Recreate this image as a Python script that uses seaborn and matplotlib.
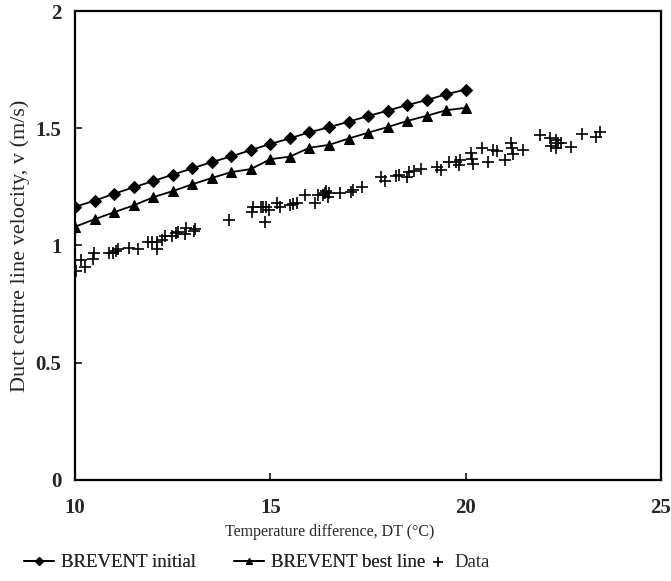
import numpy as np
import pandas as pd
import seaborn as sns
import matplotlib.pyplot as plt

# BREVENT predictions (DT step 0.5 from 10 to 20 degC)
dt_model = [10.0, 10.5, 11.0, 11.5, 12.0, 12.5, 13.0, 13.5, 14.0, 14.5, 15.0,
            15.5, 16.0, 16.5, 17.0, 17.5, 18.0, 18.5, 19.0, 19.5, 20.0]
v_initial = [1.165, 1.191, 1.221, 1.248, 1.275, 1.302, 1.329, 1.356, 1.380, 1.407, 1.433,
             1.457, 1.483, 1.504, 1.528, 1.552, 1.575, 1.599, 1.620, 1.645, 1.665]
v_best = [1.080, 1.112, 1.142, 1.171, 1.206, 1.232, 1.261, 1.288, 1.313, 1.326, 1.368,
          1.379, 1.417, 1.429, 1.456, 1.481, 1.505, 1.531, 1.553, 1.577, 1.587]

# measured data
dt_data = [10.03, 10.15, 10.25, 10.45, 10.47, 10.87, 10.96, 11.04, 11.10, 11.37, 11.61,
           11.87, 11.98, 12.10, 12.10, 12.23, 12.29, 12.49, 12.57, 12.63, 12.82, 12.85,
           13.04, 13.08, 13.94, 14.52, 14.56, 14.75, 14.82, 14.89, 14.86, 14.97, 15.16,
           15.24, 15.50, 15.58, 15.68, 15.88, 16.13, 16.22, 16.34, 16.39, 16.43, 16.47,
           16.51, 16.77, 17.07, 17.11, 17.35, 17.83, 17.94, 18.21, 18.30, 18.51, 18.55,
           18.68, 18.85, 19.27, 19.36, 19.57, 19.74, 19.82, 19.86, 20.14, 20.18, 20.16,
           20.41, 20.57, 20.71, 20.80, 21.01, 21.16, 21.18, 21.20, 21.48, 21.90, 22.15,
           22.18, 22.32, 22.37, 22.45, 22.32, 22.70, 22.98, 23.34, 23.43]
v_data = [0.891, 0.938, 0.907, 0.942, 0.969, 0.967, 0.969, 0.978, 0.986, 0.988, 0.984,
          1.016, 1.016, 1.016, 0.984, 1.023, 1.041, 1.041, 1.052, 1.056, 1.049, 1.073,
          1.063, 1.069, 1.109, 1.144, 1.166, 1.166, 1.166, 1.166, 1.099, 1.151, 1.180,
          1.166, 1.173, 1.177, 1.180, 1.215, 1.180, 1.215, 1.215, 1.225, 1.234, 1.208,
          1.223, 1.225, 1.229, 1.237, 1.248, 1.291, 1.276, 1.296, 1.301, 1.293, 1.315,
          1.318, 1.325, 1.336, 1.322, 1.357, 1.357, 1.343, 1.365, 1.393, 1.348, 1.368,
          1.414, 1.357, 1.407, 1.403, 1.365, 1.436, 1.414, 1.389, 1.407, 1.471, 1.457,
          1.424, 1.450, 1.436, 1.436, 1.414, 1.421, 1.475, 1.461, 1.485]


def main():
    sns.set_style("ticks")
    plt.rcParams["font.family"] = ["Liberation Serif", "DejaVu Serif"]

    model = pd.DataFrame({"dt": dt_model, "initial": v_initial, "best": v_best})
    data = pd.DataFrame({"dt": dt_data, "v": v_data})

    fig, ax = plt.subplots(figsize=(6.71, 5.81), dpi=100)
    fig.subplots_adjust(left=0.112, right=0.985, top=0.981, bottom=0.174)

    sns.lineplot(data=model, x="dt", y="initial", ax=ax, color="black", lw=1.3,
                 marker="D", markersize=6, markeredgecolor="black",
                 label="BREVENT initial")
    sns.lineplot(data=model, x="dt", y="best", ax=ax, color="black", lw=1.3,
                 marker="^", markersize=7, markeredgecolor="black",
                 label="BREVENT best line")
    sns.scatterplot(data=data, x="dt", y="v", ax=ax, color="black", marker="+",
                    s=85, linewidth=1.2, label="Data")

    ax.set_xlim(10, 25)
    ax.set_ylim(0, 2)
    ax.set_xticks([10, 15, 20, 25])
    ax.set_xticklabels(["10", "15", "20", "25"])
    ax.set_yticks([0, 0.5, 1, 1.5, 2])
    ax.set_yticklabels(["0", "0.5", "1", "1.5", "2"])
    ax.tick_params(direction="in", length=5, width=1.3, labelsize=15)
    ax.tick_params(axis="x", pad=13)
    ax.tick_params(axis="y", pad=10)
    for lab in ax.get_xticklabels() + ax.get_yticklabels():
        lab.set_fontweight("bold")
    for sp in ax.spines.values():
        sp.set_visible(True)
        sp.set_linewidth(1.6)
        sp.set_color("black")

    ax.set_xlabel("Temperature difference, DT (°C)", fontsize=11.5, labelpad=12)
    ax.xaxis.set_label_coords(0.435, -0.095)
    ax.set_ylabel("Duct centre line velocity, v (m/s)", fontsize=16, labelpad=4)

    handles, labels = ax.get_legend_handles_labels()
    ax.legend_.remove()
    leg1 = fig.legend(handles[:2], labels[:2], loc="lower left",
                      bbox_to_anchor=(0.01, -0.012), ncol=2, frameon=False,
                      fontsize=13.5, handlelength=1.6, columnspacing=2.0,
                      handletextpad=0.4, markerscale=0.7)
    fig.legend(handles[2:], labels[2:], loc="lower left",
               bbox_to_anchor=(0.613, -0.012), frameon=False, fontsize=13.5,
               handlelength=1.0, handletextpad=0.4, markerscale=0.75)
    fig.add_artist(leg1)

    fig.savefig("out.png", dpi=100)


if __name__ == "__main__":
    main()
